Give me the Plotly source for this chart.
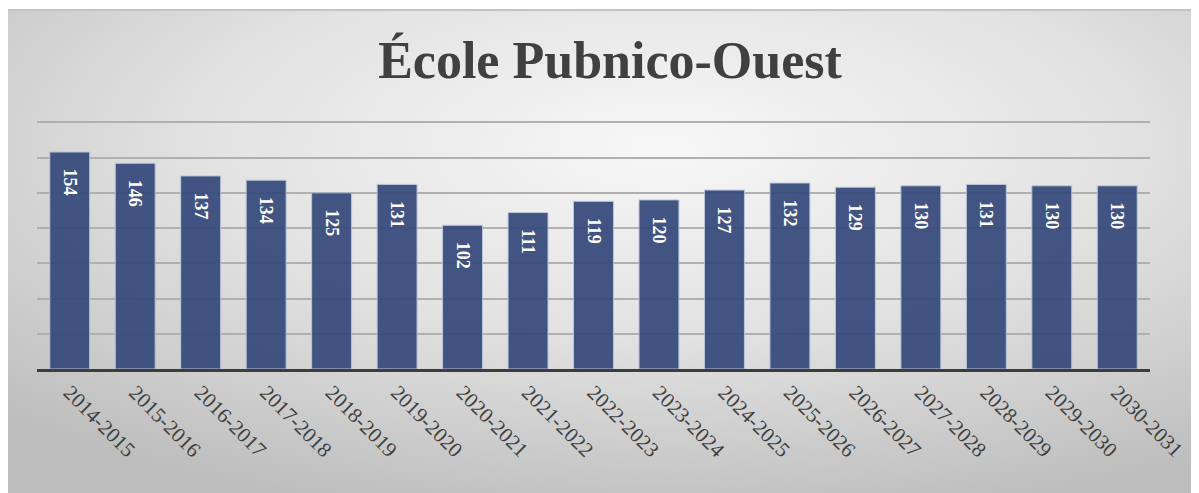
import base64
import plotly.graph_objects as go

years = ["2014-2015", "2015-2016", "2016-2017", "2017-2018", "2018-2019", "2019-2020",
         "2020-2021", "2021-2022", "2022-2023", "2023-2024", "2024-2025", "2025-2026",
         "2026-2027", "2027-2028", "2028-2029", "2029-2030", "2030-2031"]
students = [154, 146, 137, 134, 125, 131, 102, 111, 119, 120, 127, 132, 129, 130, 131, 130, 130]
title_text = "École Pubnico-Ouest"

# page has an 8px body margin; figure coordinates are page coordinates minus 8
OFF = 8
W, H = 1199 - OFF, 493 - OFF
L, T = 37 - OFF, 121 - OFF
R = W - (1150 - OFF)
B = H - (369 - OFF)
pw, ph = W - L - R, H - T - B

svg = ("<svg xmlns='http://www.w3.org/2000/svg' width='1192' height='483' "
       "viewBox='0 0 1192 483' preserveAspectRatio='none'>"
       "<defs><radialGradient id='g' cx='0.55' cy='0.28' r='0.78'>"
       "<stop offset='0' stop-color='#f7f7f7'/>"
       "<stop offset='0.5' stop-color='#e2e2e2'/>"
       "<stop offset='1' stop-color='#bebebe'/>"
       "</radialGradient></defs>"
       "<rect width='1192' height='483' fill='url(#g)'/></svg>")
src = "data:image/svg+xml;base64," + base64.b64encode(svg.encode()).decode()

gx0 = (0 - L) / pw
gy0 = (H - B - 2) / ph

fig = go.Figure()
fig.add_trace(go.Bar(
    x=years, y=students,
    marker=dict(color="#34487a", opacity=0.92, line=dict(color="#b9c3da", width=1)),
    texttemplate="\u00a0\u00a0\u00a0%{y}",
    textposition="inside", insidetextanchor="end", textangle=90,
    textfont=dict(family="Liberation Serif", size=18, color="white", weight="bold"),
    hoverinfo="skip",
))

fig.update_layout(
    width=W, height=H,
    margin=dict(l=L, r=R, t=T, b=B, pad=0),
    paper_bgcolor="white", plot_bgcolor="rgba(0,0,0,0)",
    bargap=0.39, showlegend=False,
    title=dict(text="<b>" + title_text + "</b>", x=(610 - 37) / pw, xref="paper", xanchor="center",
               y=(H - (60 - OFF)) / H, yanchor="middle",
               font=dict(family="Liberation Serif", size=52, color="#404040")),
    images=[dict(source=src, xref="paper", yref="paper",
                 x=gx0, y=gy0, sizex=W / pw, sizey=H / ph,
                 xanchor="left", yanchor="top", sizing="stretch", layer="below")],
    shapes=[dict(type="line", xref="paper", yref="paper",
                 x0=gx0, x1=(W - L) / pw, y0=gy0, y1=gy0,
                 line=dict(color="#c4c4c4", width=2))],
)
fig.update_xaxes(tickangle=45, showgrid=False, showline=True, linecolor="#3d3d3d", linewidth=3,
                 ticks="", tickfont=dict(family="Liberation Serif", size=21, color="#404040"))
fig.update_yaxes(range=[0, 176], tickvals=[25, 50, 75, 100, 125, 150, 175],
                 showgrid=True, gridcolor="#b0b0b0", gridwidth=2,
                 showticklabels=False, zeroline=False, showline=False)

fig.write_html("out.html")
